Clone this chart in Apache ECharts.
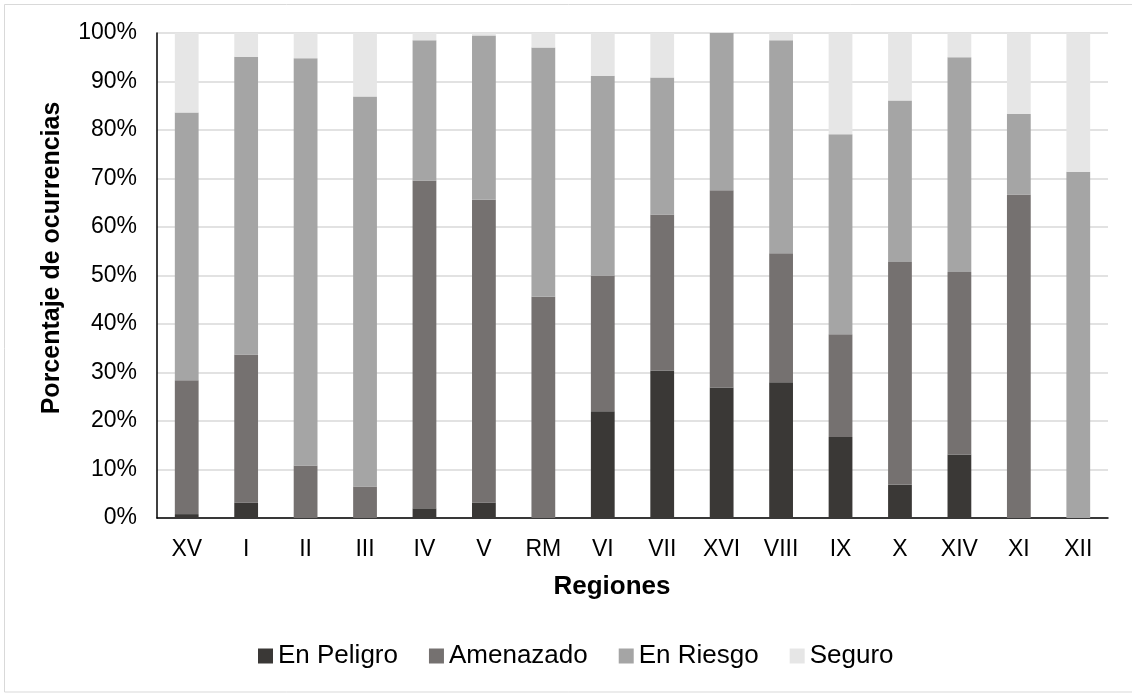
<!DOCTYPE html>
<html>
<head>
<meta charset="utf-8">
<script src="https://cdn.jsdelivr.net/npm/echarts@6/dist/echarts.min.js"></script>
<style>
  html, body { margin: 0; padding: 0; background: #fff; }
  #chart { width: 1132px; height: 693px; }
</style>
</head>
<body>
<div id="chart"></div>
<script>
const regiones = ["XV", "I", "II", "III", "IV", "V", "RM", "VI", "VII", "XVI", "VIII", "IX", "X", "XIV", "XI", "XII"];
const enPeligro = [0.8, 3.2, 0, 0, 2.0, 3.2, 0, 22.0, 30.4, 26.9, 28.0, 16.7, 6.9, 13.1, 0, 0];
const amenazado = [27.6, 30.5, 10.8, 6.5, 67.6, 62.4, 45.6, 28.0, 32.2, 40.7, 26.6, 21.2, 45.9, 37.6, 66.7, 0];
const enRiesgo = [55.2, 61.4, 84.0, 80.4, 28.9, 33.9, 51.4, 41.2, 28.2, 32.4, 43.9, 41.2, 33.3, 44.3, 16.6, 71.4];
const seguro = [16.4, 4.9, 5.2, 13.1, 1.5, 0.5, 3.0, 8.8, 9.2, 0, 1.5, 20.9, 13.9, 5.0, 16.7, 28.6];

const font = "'Liberation Sans', Arial, sans-serif";

const chart = echarts.init(document.getElementById("chart"));

function serie(name, data, color) {
  return {
    name: name,
    type: "bar",
    stack: "x",
    barWidth: "40%",
    data: data,
    itemStyle: { color: color },
    animation: false,
  };
}

chart.setOption({
  textStyle: { fontFamily: font },
  grid: { left: 157, right: 24, top: 33, bottom: 175 },
  legend: {
    left: 253,
    top: 638,
    itemWidth: 15,
    itemHeight: 15,
    itemGap: 31,
    icon: "rect",
    textStyle: { fontSize: 26, color: "#000", fontFamily: font },
  },
  xAxis: {
    type: "category",
    data: regiones,
    axisLine: { lineStyle: { color: "#000", width: 1.5 } },
    axisTick: { show: false },
    axisLabel: { fontSize: 23, color: "#000", margin: 20, interval: 0 },
  },
  yAxis: {
    type: "value",
    min: 0,
    max: 100,
    interval: 10,
    axisLine: { show: true, lineStyle: { color: "#000", width: 1.5 } },
    axisTick: { show: false },
    axisLabel: { fontSize: 23, color: "#000", margin: 20, formatter: "{value}%" },
    splitLine: { lineStyle: { color: "#d9d9d9", width: 1.5 } },
  },
  graphic: [
    {
      type: "rect",
      shape: { x: 4.5, y: 4.5, width: 1140, height: 687.5 },
      style: { fill: "none", stroke: "#d9d9d9", lineWidth: 1 },
      z: -1,
    },
    {
      type: "text",
      x: 52,
      y: 258,
      rotation: Math.PI / 2,
      style: {
        text: "Porcentaje de ocurrencias",
        font: "bold 25px " + font,
        fill: "#000",
        align: "center",
        verticalAlign: "middle",
      },
    },
    {
      type: "text",
      x: 612,
      y: 587,
      style: {
        text: "Regiones",
        font: "bold 26px " + font,
        fill: "#000",
        align: "center",
        verticalAlign: "middle",
      },
    },
  ],
  series: [
    serie("En Peligro", enPeligro, "#3a3836"),
    serie("Amenazado", amenazado, "#757170"),
    serie("En Riesgo", enRiesgo, "#a5a5a5"),
    serie("Seguro", seguro, "#e6e6e6"),
  ],
});
</script>
</body>
</html>
